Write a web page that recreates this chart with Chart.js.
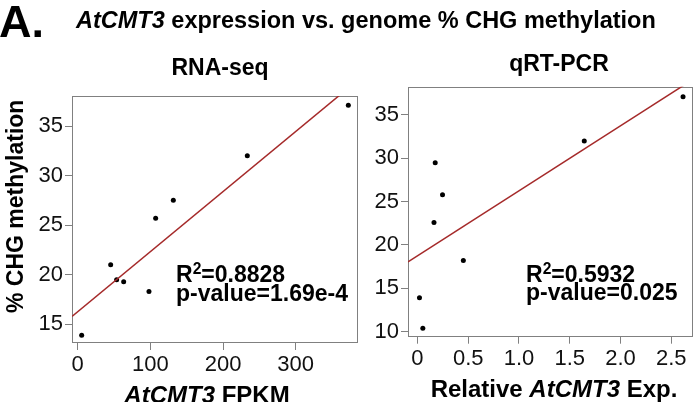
<!DOCTYPE html>
<html>
<head>
<meta charset="utf-8">
<script src="https://cdn.jsdelivr.net/npm/chart.js@4.4.1/dist/chart.umd.min.js"></script>
<style>
  body { margin: 0; background: #fff; }
  #wrap { position: relative; width: 697px; height: 402px; overflow: hidden; font-family: 'Liberation Sans', Arial, sans-serif; color: #000; }
  canvas { position: absolute; top: 0; }
  .t { position: absolute; line-height: 1; white-space: nowrap; font-weight: bold; }
  .c { transform: translateX(-50%); }
  sup { font-size: 0.68em; vertical-align: 0.5em; line-height: 0; }
</style>
</head>
<body>
<div id="wrap">
  <canvas id="rnaChart" width="365" height="402" style="left:0"></canvas>
  <canvas id="qpcrChart" width="332" height="402" style="left:365px"></canvas>

  <div class="t" style="left:-1px; top:-1px; font-size:45px;">A.</div>
  <div class="t" style="left:76px; top:9px; font-size:23.5px;"><i>AtCMT3</i> expression vs. genome % CHG methylation</div>

  <div class="t c" style="left:220px; top:56px; font-size:23px;">RNA-seq</div>
  <div class="t c" style="left:559px; top:52px; font-size:23px;">qRT-PCR</div>

  <div class="t" id="ylab" style="font-size:23px;">% CHG methylation</div>

  <div class="t c" style="left:207px; top:383px; font-size:24px;"><i>AtCMT3</i> FPKM</div>
  <div class="t c" style="left:554px; top:377px; font-size:24px;">Relative <i>AtCMT3</i> Exp.</div>

  <div class="t" style="left:176px; top:263px; font-size:23px;">R<sup>2</sup>=0.8828</div>
  <div class="t" style="left:176px; top:282px; font-size:23px;">p-value=1.69e-4</div>
  <div class="t" style="left:526px; top:263px; font-size:23px;">R<sup>2</sup>=0.5932</div>
  <div class="t" style="left:526px; top:281px; font-size:23px;">p-value=0.025</div>
</div>

<script>
// RNA-seq panel
const rnaFpkm = [5.5, 45.4, 53.6, 63.3, 98.1, 107.3, 131.6, 233.4, 372.4]
const rnaChg = [13.9, 21.0, 19.5, 19.3, 18.3, 25.7, 27.5, 32.0, 37.1]
const rnaFit = [16.27, 0.0606] // intercept, slope
const rnaXTicks = [0, 100, 200, 300]
const rnaXLabels = ['0', '100', '200', '300']
const rnaYTicks = [15, 20, 25, 30, 35]

// qRT-PCR panel
const qpcrExp = [0.02, 0.053, 0.163, 0.175, 0.247, 0.452, 1.643, 2.616]
const qpcrChg = [13.9, 10.4, 22.6, 29.5, 25.8, 18.2, 32.0, 37.1]
const qpcrFit = [18.75, 7.5]
const qpcrXTicks = [0, 0.5, 1, 1.5, 2, 2.5]
const qpcrXLabels = ['0', '0.5', '1.0', '1.5', '2.0', '2.5']
const qpcrYTicks = [10, 15, 20, 25, 30, 35]

const FONT = "'Liberation Sans', Arial, sans-serif"
const AXIS_GREY = '#808080'

// y label rotated
const ylab = document.getElementById('ylab')
ylab.style.left = '0px'
ylab.style.top = '0px'
ylab.style.transformOrigin = '0 0'
ylab.style.transform = 'translate(4px, 313px) rotate(-90deg)'

const boxPlugin = {
  id: 'box',
  beforeDatasetsDraw(chart) {
    const a = chart.chartArea
    const ctx = chart.ctx
    ctx.save()
    ctx.strokeStyle = AXIS_GREY
    ctx.lineWidth = 1
    ctx.strokeRect(Math.round(a.left) + 0.5, Math.round(a.top) + 0.5,
      Math.round(a.right - a.left) - 1, Math.round(a.bottom - a.top) - 1)
    ctx.restore()
  }
}

function makePanel(id, xs, ys, fit, xRange, yRange, xTicks, xLabels, yTicks, pad, yWidth) {
  const pts = xs.map((x, i) => ({ x, y: ys[i] }))
  const line = xRange.map(x => ({ x, y: fit[0] + fit[1] * x }))
  new Chart(document.getElementById(id), {
    type: 'scatter',
    data: {
      datasets: [
        {
          data: line,
          showLine: true,
          borderColor: '#a52a2a',
          borderWidth: 1.5,
          pointRadius: 0,
        },
        {
          data: pts,
          backgroundColor: '#000',
          borderWidth: 0,
          pointRadius: 2.5,
        }
      ]
    },
    options: {
      responsive: false,
      animation: false,
      devicePixelRatio: 1,
      layout: { padding: pad },
      plugins: { legend: { display: false }, title: { display: false }, tooltip: { enabled: false } },
      scales: {
        x: {
          type: 'linear',
          min: xRange[0],
          max: xRange[1],
          afterBuildTicks: s => { s.ticks = xTicks.map(v => ({ value: v })) },
          afterFit: s => { s.height = 30 },
          grid: { drawOnChartArea: false, tickLength: 7, color: AXIS_GREY },
          border: { display: false },
          ticks: {
            padding: 2,
            color: '#111',
            font: { family: FONT, size: 22 },
            maxRotation: 0,
            callback: (v) => xLabels[xTicks.indexOf(v)]
          }
        },
        y: {
          type: 'linear',
          min: yRange[0],
          max: yRange[1],
          afterBuildTicks: s => { s.ticks = yTicks.map(v => ({ value: v })) },
          afterFit: s => { s.width = yWidth },
          grid: { drawOnChartArea: false, tickLength: 7, color: AXIS_GREY },
          border: { display: false },
          ticks: {
            padding: 2,
            color: '#111',
            font: { family: FONT, size: 22 },
            callback: (v) => String(v)
          }
        }
      }
    },
    plugins: [boxPlugin]
  })
}

makePanel('rnaChart', rnaFpkm, rnaChg, rnaFit, [-7.8, 385.7], [13.11, 38.03],
  rnaXTicks, rnaXLabels, rnaYTicks, { top: 96, right: 7, bottom: 29, left: 0 }, 72)

makePanel('qpcrChart', qpcrExp, qpcrChg, qpcrFit, [-0.093, 2.714], [9.42, 38.26],
  qpcrXTicks, qpcrXLabels, qpcrYTicks, { top: 86.7, right: 1, bottom: 35.3, left: 0 }, 43)
</script>
</body>
</html>
